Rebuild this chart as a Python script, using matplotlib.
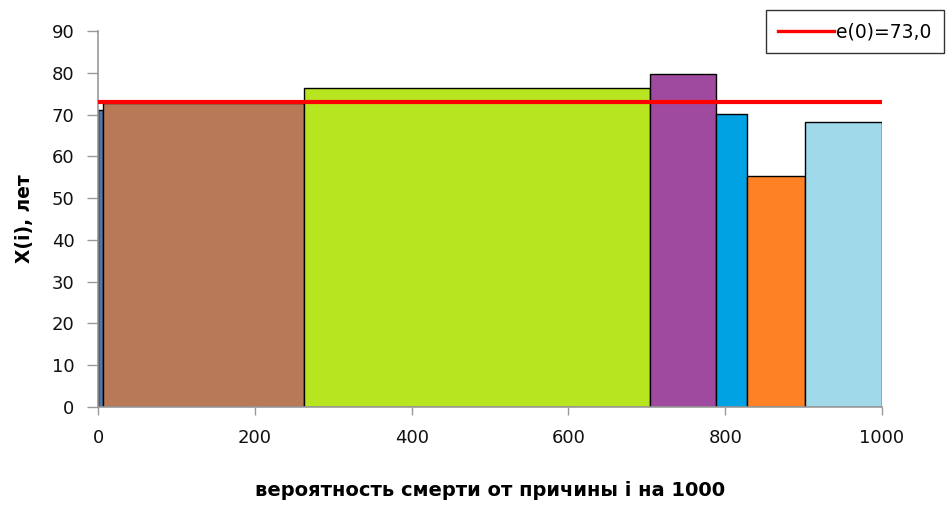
import matplotlib
matplotlib.use("Agg")
import matplotlib.pyplot as plt
import numpy as np

# probability of death from cause i (per 1000) and mean age at death X(i)
widths = [6, 257, 441, 84, 40, 74, 98]
heights = [71.2, 72.7, 76.3, 79.8, 70.2, 55.2, 68.2]
colors = ["#4f79aa", "#b87957", "#b7e51f", "#a04a9f", "#00a2e3", "#ff8125", "#9fd9ea"]
e0 = 73.0

x_ticks = [0, 200, 400, 600, 800, 1000]
y_ticks = list(range(0, 91, 10))

plt.rcParams["font.family"] = ["DejaVu Sans"]

fig = plt.figure(figsize=(9.5, 5.05), dpi=100)
ax = fig.add_axes([0.1032, 0.194, 0.8252, 0.7446])

lefts = np.concatenate([[0], np.cumsum(widths)[:-1]])
ax.bar(lefts, heights, width=widths, align="edge", color=colors,
       edgecolor="black", linewidth=1.0, zorder=2)

line = ax.axhline(e0, color="#ff0000", linewidth=3, zorder=3,
                  label=f"e(0)={e0:.1f}".replace(".", ","))

ax.set_xlim(0, 1000)
ax.set_ylim(0, 90)
ax.set_xticks(x_ticks)
ax.set_yticks(y_ticks)
ax.tick_params(axis="both", direction="out", width=1, color="#999999",
               labelsize=13, labelcolor="#111111")
ax.tick_params(axis="y", length=8, pad=9)
ax.tick_params(axis="x", length=6, pad=10)
for s in ("top", "right"):
    ax.spines[s].set_visible(False)
for s in ("left", "bottom"):
    ax.spines[s].set_color("#999999")
    ax.spines[s].set_linewidth(1.2)

ax.set_xlabel("вероятность смерти от причины i на 1000", fontsize=14,
              fontweight="bold", labelpad=24)
ax.set_ylabel("X(i), лет", fontsize=13.4, fontweight="bold", labelpad=13)

leg = fig.legend(handles=[line], loc="upper left", bbox_to_anchor=(0.806, 0.980),
                 fontsize=13.5, frameon=True, fancybox=False, handlelength=3.0,
                 handletextpad=0.1, borderpad=0.65, borderaxespad=0)
leg.get_frame().set_edgecolor("black")
leg.get_frame().set_linewidth(1.0)
leg.get_lines()[0].set_linewidth(2.4)

fig.savefig("out.png", dpi=100)
